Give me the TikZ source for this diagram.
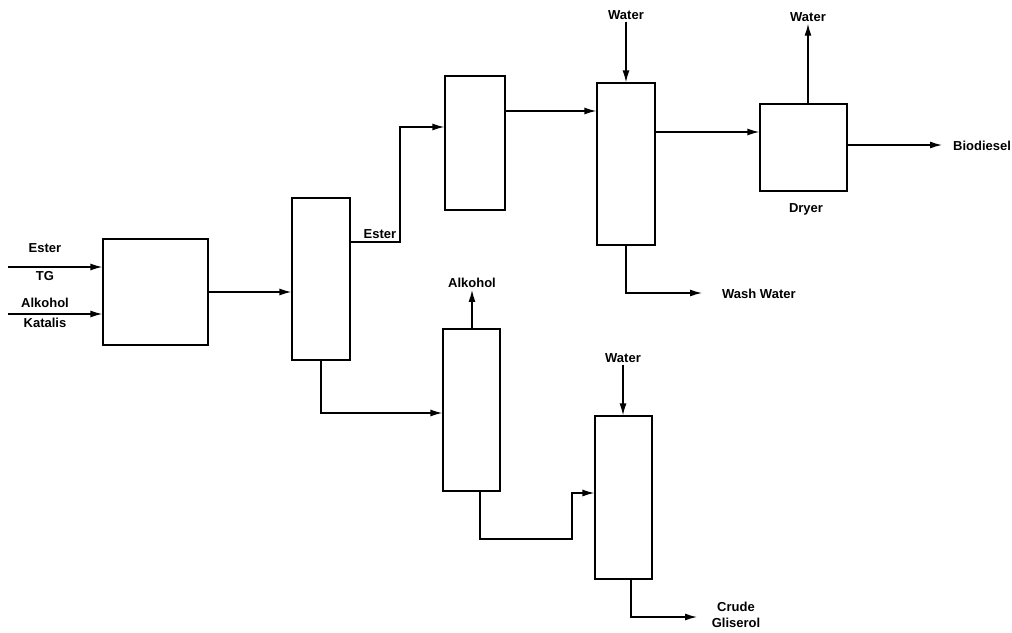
\documentclass[tikz,border=0pt]{standalone}
\usepackage{fontspec}
\setmainfont{Liberation Sans}
\usepackage{tikz}
\usetikzlibrary{arrows.meta, positioning, calc}

\begin{document}
\begin{tikzpicture}[
  x=1pt, y=-1pt,
  unit/.style={
    draw, line width=1.3pt,
    inner sep=0pt
  },
  flow/.style={
    -{Latex[length=12pt, width=7pt]},
    line width=1.3pt
  },
  lbl/.style={
    font=\fontsize{13}{16}\selectfont\bfseries,
    inner sep=2pt, align=center
  }
]
\useasboundingbox (0,0) rectangle (1012,632);

% process units
\node[unit, minimum width=105pt, minimum height=106pt] (reactor) at (155.5,292) {};
\node[unit, minimum width=58pt,  minimum height=162pt] (sep)     at (321,279) {};
\node[unit, minimum width=60pt,  minimum height=134pt] (settler) at (475,143) {};
\node[unit, minimum width=58pt,  minimum height=162pt] (washer)  at (626,164) {};
\node[unit, minimum width=87pt,  minimum height=87pt]  (dryer)   at (803.5,147.5) {};
\node[unit, minimum width=57pt,  minimum height=162pt] (alc)     at (471.5,410) {};
\node[unit, minimum width=57pt,  minimum height=163pt] (glyc)    at (623.5,497.5) {};

% labels
\node[lbl] (lEster)   at (45,248) {Ester};
\node[lbl] (lTG)      at (45,276) {TG};
\node[lbl] (lAlk)     at (45,303) {Alkohol};
\node[lbl] (lKat)     at (45,323) {Katalis};
\node[lbl, anchor=south] (lEster2) at (380,241) {Ester};
\node[lbl] (waterD)   at (626,15) {Water};
\node[lbl] (waterE)   at (808,17) {Water};
\node[lbl, anchor=west] (bio)  at (951,146) {Biodiesel};
\node[lbl] (dryerLbl) at (806,209) {Dryer};
\node[lbl, anchor=west] (wash) at (720,294) {Wash Water};
\node[lbl] (alkOut)   at (472,283) {Alkohol};
\node[lbl] (waterG)   at (623,358) {Water};
\node[lbl] (crude)    at (736,615) {Crude\\Gliserol};

% feed lines
\coordinate (in1) at (8,267);
\coordinate (in2) at (8,314);
\draw[flow] (in1) -- (in1 -| reactor.west);
\draw[flow] (in2) -- (in2 -| reactor.west);

\draw[flow] (reactor.east) -- (reactor.east -| sep.west);

% ester route
\coordinate (e1) at (400,242);
\coordinate (e2) at (400,127);
\draw[flow] (sep.east |- e1) -| (e2) -- (e2 -| settler.west);
\coordinate (e3) at (0,111);
\draw[flow] (settler.east |- e3) -- (washer.west |- e3);
\draw[flow] (waterD.south) -- (waterD.south |- washer.north);
\coordinate (e4) at (0,132);
\draw[flow] (washer.east |- e4) -- (dryer.west |- e4);
\draw[flow] (waterE.south |- dryer.north) -- (waterE.south);
\coordinate (e5) at (942,145);
\draw[flow] (dryer.east |- e5) -- (e5);
\coordinate (w1) at (702,293);
\draw[flow] (washer.south) |- (w1);

% glycerol route
\coordinate (a1) at (0,413);
\draw[flow] (sep.south) |- (alc.west |- a1);
\draw[flow] (alkOut.south |- alc.north) -- (alkOut.south);
\coordinate (g1) at (480,539);
\coordinate (g2) at (572,493);
\draw[flow] (alc.south -| g1) -- (g1) -| (g2) -- (g2 -| glyc.west);
\draw[flow] (waterG.south) -- (waterG.south |- glyc.north);
\coordinate (g3) at (631,617);
\coordinate (g4) at (697,617);
\draw[flow] (glyc.south -| g3) -- (g3) -- (g4);
\end{tikzpicture}
\end{document}
